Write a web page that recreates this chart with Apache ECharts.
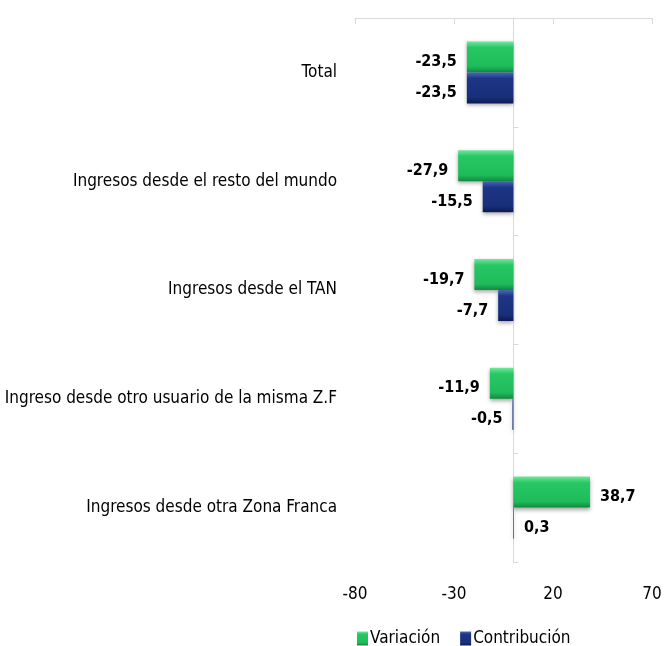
<!DOCTYPE html>
<html>
<head>
<meta charset="utf-8">
<script src="https://cdn.jsdelivr.net/npm/echarts@6/dist/echarts.min.js"></script>
<style>
  html, body { margin: 0; padding: 0; background: #fff; }
  #chart { width: 664px; height: 646px; }
</style>
</head>
<body>
<div id="chart"></div>
<script>
// datos del gráfico (de arriba hacia abajo)
var categorias = [
  'Total',
  'Ingresos desde el resto del mundo',
  'Ingresos desde el TAN',
  'Ingreso desde otro usuario de la misma Z.F',
  'Ingresos desde otra Zona Franca'
]
var variacion = [-23.5, -27.9, -19.7, -11.9, 38.7]
var contribucion = [-23.5, -15.5, -7.7, -0.5, 0.3]
var ejeMin = -80
var ejeMax = 70
var ejeIntervalo = 50

var fuente = "'DejaVu Sans Condensed', 'Liberation Sans Narrow', sans-serif"

var verde = {
  type: 'linear', x: 0, y: 0, x2: 0, y2: 1,
  colorStops: [
    { offset: 0, color: '#6fe89c' },
    { offset: 0.2, color: '#27c764' },
    { offset: 0.8, color: '#1fbb5a' },
    { offset: 1, color: '#128a40' }
  ]
}
var azul = {
  type: 'linear', x: 0, y: 0, x2: 0, y2: 1,
  colorStops: [
    { offset: 0, color: '#4a68b8' },
    { offset: 0.2, color: '#1c3585' },
    { offset: 0.8, color: '#182f7a' },
    { offset: 1, color: '#0b1a52' }
  ]
}

function datos (valores) {
  return valores.map(function (v) {
    return { value: v, label: { position: v < 0 ? 'left' : 'right' } }
  })
}

var etiqueta = {
  show: true,
  distance: 10,
  offset: [0, 5],
  color: '#000',
  fontFamily: fuente,
  fontSize: 16,
  fontWeight: 'bold',
  formatter: function (p) { return String(p.value).replace('.', ',') }
}

var chart = echarts.init(document.getElementById('chart'))
chart.setOption({
  animation: false,
  textStyle: { fontFamily: fuente },
  grid: { left: 355, right: 12, top: 18, bottom: 84, containLabel: false, outerBoundsMode: 'none' },
  legend: {
    data: ['Variación', 'Contribución'],
    left: 352,
    top: 625,
    icon: 'rect',
    itemWidth: 11,
    itemHeight: 14,
    itemGap: 20,
    textStyle: { fontFamily: fuente, fontSize: 17, color: '#000', padding: [0, 0, 0, -3] }
  },
  xAxis: [
    {
      type: 'value', position: 'top', min: ejeMin, max: ejeMax, interval: ejeIntervalo,
      axisLine: { show: true, lineStyle: { color: '#d9d9d9', width: 1 } },
      axisTick: { show: true, inside: true, length: 6, lineStyle: { color: '#d9d9d9' } },
      axisLabel: { show: false },
      splitLine: { show: false }
    },
    {
      type: 'value', position: 'bottom', min: ejeMin, max: ejeMax, interval: ejeIntervalo,
      axisLine: { show: false },
      axisTick: { show: false },
      axisLabel: { show: true, margin: 24, color: '#000', fontFamily: fuente, fontSize: 17 },
      splitLine: { show: false }
    }
  ],
  yAxis: [
    {
      type: 'category', data: categorias, inverse: true, position: 'left',
      axisLine: { show: false, onZero: false },
      axisTick: { show: false },
      axisLabel: { margin: 18, color: '#000', fontFamily: fuente, fontSize: 17 }
    },
    {
      type: 'category', data: categorias, inverse: true, position: 'right',
      axisLine: { show: true, onZero: true, onZeroAxisIndex: 0, lineStyle: { color: '#d9d9d9', width: 1 } },
      axisTick: { show: true, inside: false, length: 5, lineStyle: { color: '#d9d9d9' } },
      axisLabel: { show: false }
    }
  ],
  series: [
    {
      name: 'Variación', type: 'bar', xAxisIndex: 0, yAxisIndex: 0,
      barWidth: 31, barGap: '0%',
      data: datos(variacion),
      itemStyle: { color: verde, shadowBlur: 4, shadowColor: 'rgba(0,0,0,0.35)', shadowOffsetY: 2 },
      label: etiqueta
    },
    {
      name: 'Contribución', type: 'bar', xAxisIndex: 0, yAxisIndex: 0,
      barWidth: 31, barGap: '0%',
      data: datos(contribucion),
      itemStyle: { color: azul, shadowBlur: 4, shadowColor: 'rgba(0,0,0,0.35)', shadowOffsetY: 2 },
      label: etiqueta
    }
  ]
})
</script>
</body>
</html>
